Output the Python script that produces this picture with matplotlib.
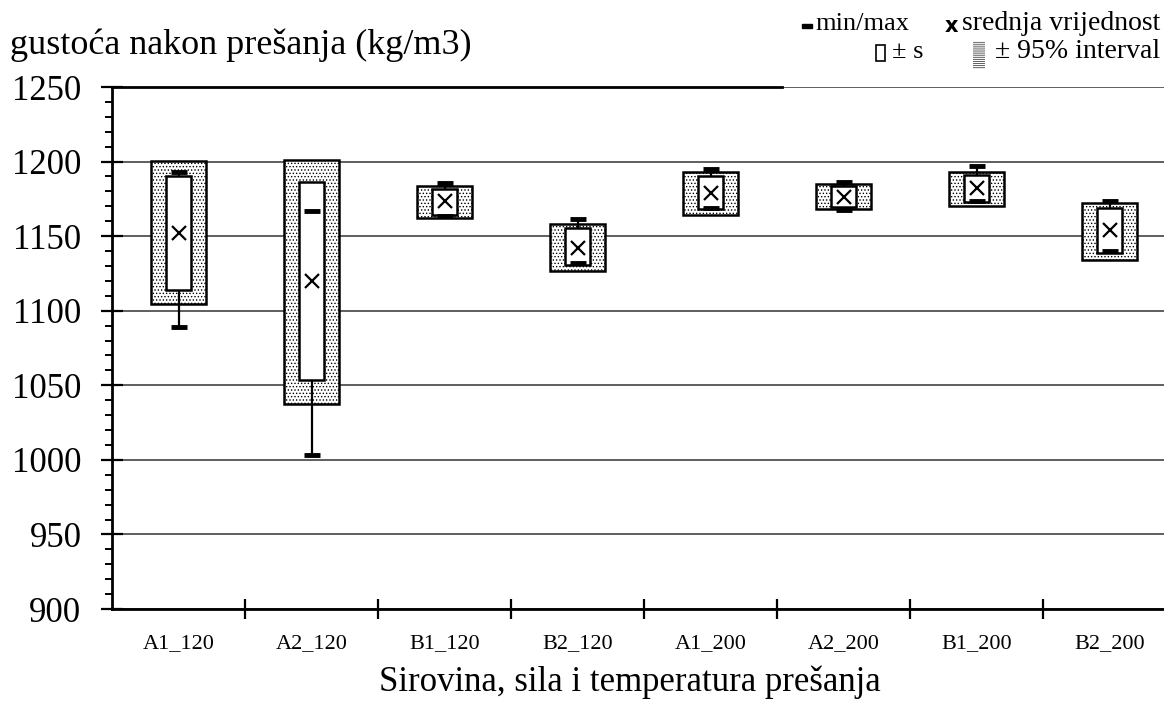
import numpy as np
import matplotlib
matplotlib.use('Agg')
import matplotlib.pyplot as plt
from matplotlib.patches import Rectangle

plt.rcParams['font.family'] = ['Liberation Serif', 'DejaVu Serif']
plt.rcParams['hatch.linewidth'] = 0.6
plt.rcParams['hatch.color'] = 'black'

categories = ['A1_120', 'A2_120', 'B1_120', 'B2_120', 'A1_200', 'A2_200', 'B1_200', 'B2_200']
means = [1152, 1119.6, 1173.8, 1141.8, 1179, 1176.5, 1182, 1154]
sd_low = [1114, 1053.3, 1164.2, 1130.6, 1168.2, 1169.7, 1173, 1138.5]
sd_high = [1190.6, 1186, 1181.4, 1155.3, 1190.3, 1183.6, 1191, 1168.7]
ci_low = [1104.4, 1037.5, 1162.4, 1126.8, 1164.2, 1168, 1170.2, 1134]
ci_high = [1200.6, 1201, 1183.8, 1158.1, 1193.2, 1185, 1193.2, 1172.5]
mins = [1089, 1003, 1163.5, 1132.2, 1168.7, 1167.5, 1173.6, 1140]
maxs = [1193, 1167, 1185.9, 1161.3, 1195, 1186, 1197, 1173.8]

W, H = 1164, 718
fig = plt.figure(figsize=(W / 100, H / 100), dpi=100)
ax = fig.add_axes([112 / W, 1 - 609 / H, 1064 / W, 522 / H])

x = np.arange(len(categories))
lo = np.array(ci_low)
hi = np.array(ci_high)
ax.bar(x, hi - lo, bottom=lo, width=0.41, facecolor='white', edgecolor='black',
       hatch='.....', linewidth=1.8, zorder=3)
# whiskers to min/max
ax.vlines(x, means, maxs, color='black', lw=1.6, zorder=4)
ax.vlines(x, means, mins, color='black', lw=1.6, zorder=4)
slo = np.array(sd_low)
shi = np.array(sd_high)
ax.bar(x, shi - slo, bottom=slo, width=0.19, facecolor='white', edgecolor='black',
       linewidth=1.8, zorder=5)
ax.plot(x, maxs, ls='none', marker='_', ms=11, mew=3.5, color='black', zorder=6)
ax.plot(x, mins, ls='none', marker='_', ms=11, mew=3.5, color='black', zorder=6)
ax.plot(x, means, ls='none', marker='x', ms=10, mew=1.6, color='black', zorder=7)

ax.set_xlim(-0.5, len(categories) - 0.5)
ax.set_ylim(900, 1250)
ax.set_yticks(np.arange(900, 1251, 50))
ax.set_yticks(np.arange(900, 1251, 10), minor=True)
ax.yaxis.grid(True, which='major', color='#333333', lw=1.1, zorder=0)
ax.set_axisbelow(True)
ax.tick_params(axis='y', which='major', direction='inout', length=16, width=1.6,
               labelsize=25, pad=14)
ax.tick_params(axis='y', which='minor', direction='out', length=5, width=1.4)

ax.set_xticks(x)
ax.set_xticklabels(categories)
ax.set_xticks(np.arange(0.5, len(categories) - 0.5, 1), minor=True)
ax.tick_params(axis='x', which='major', length=0, labelsize=16, pad=18)
ax.tick_params(axis='x', which='minor', direction='inout', length=14, width=1.6)

for s in ['top', 'right']:
    ax.spines[s].set_visible(False)
for s in ['left', 'bottom']:
    ax.spines[s].set_linewidth(2)
ax.plot([0, 0.63], [1, 1], transform=ax.transAxes, color='black', lw=2, clip_on=False)

fig.text(10 / W, 1 - 45 / H, 'gustoća nakon prešanja (kg/m3)', fontsize=26,
         ha='left', va='center')
fig.text(630 / W, 1 - 682 / H, 'Sirovina, sila i temperatura prešanja', fontsize=25,
         ha='center', va='center')

# legend drawn by hand
fig.add_artist(Rectangle((802 / W, 1 - 28 / H), 10 / W, 4 / H, transform=fig.transFigure,
                         facecolor='black', edgecolor='black'))
fig.text(815 / W, 1 - 24 / H, 'min/max', fontsize=19, ha='left', va='center')
fig.text(945 / W, 1 - 26 / H, 'x', fontsize=15, fontweight='bold', family='DejaVu Sans',
         ha='left', va='center')
fig.text(1160 / W, 1 - 24 / H, 'srednja vrijednost', fontsize=20, ha='right', va='center')
fig.add_artist(Rectangle((876 / W, 1 - 61 / H), 9 / W, 16 / H, transform=fig.transFigure,
                         facecolor='white', edgecolor='black', lw=1.2))
fig.text(892 / W, 1 - 52 / H, '± s', fontsize=19, ha='left', va='center')
fig.add_artist(Rectangle((973 / W, 1 - 69 / H), 12 / W, 28 / H, transform=fig.transFigure,
                         facecolor='white', edgecolor='#444444', lw=0, hatch='--------'))
fig.text(1160 / W, 1 - 52 / H, '± 95% interval', fontsize=20, ha='right', va='center')

fig.savefig('out.png', dpi=100)
